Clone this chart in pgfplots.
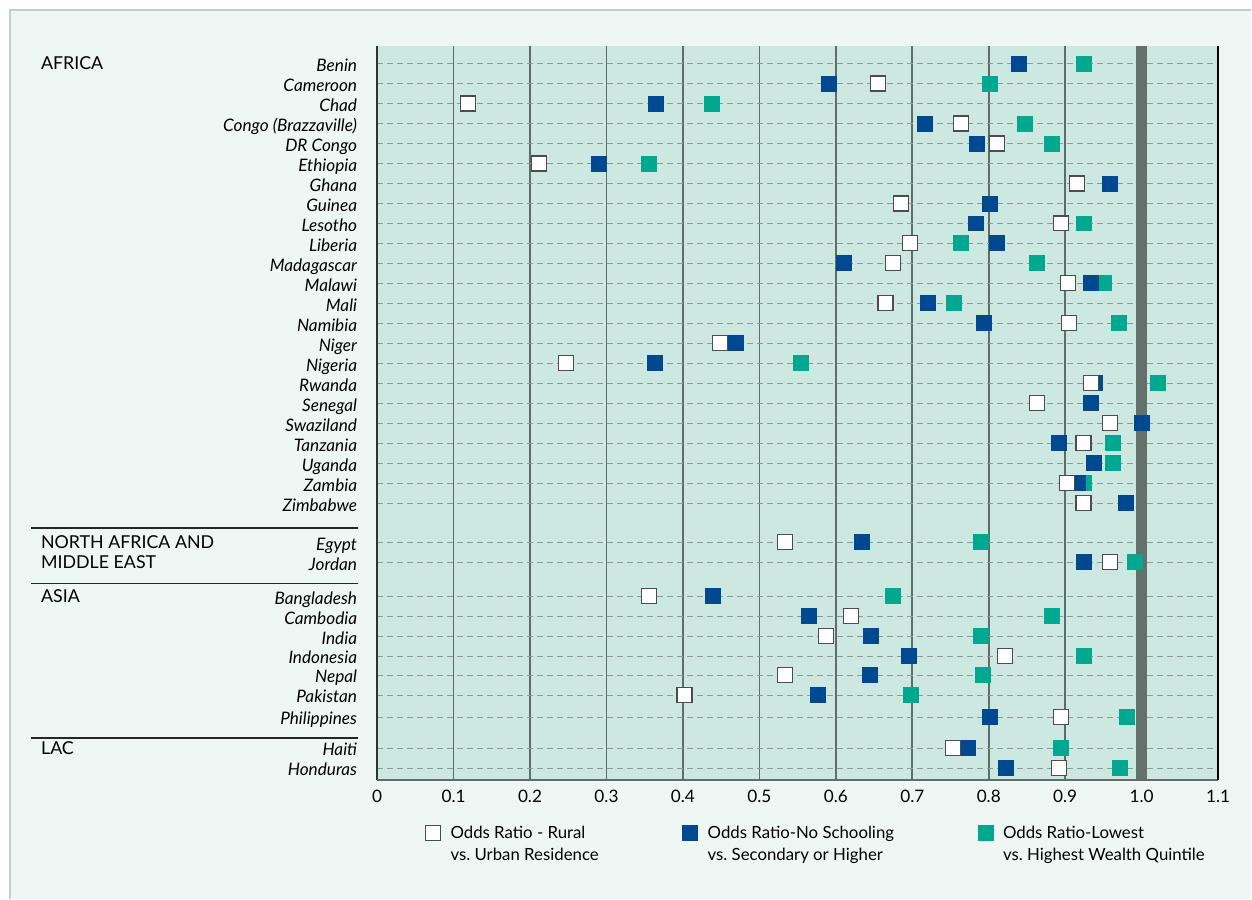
\documentclass[border=0pt]{standalone}
\usepackage{fontspec}
\setmainfont{Lato}
\usepackage{pgfplots}
\pgfplotsset{compat=1.18}
\definecolor{pagebg}{HTML}{EFF7F4}
\definecolor{plotbg}{HTML}{CCE8E0}
\definecolor{gridgray}{HTML}{5F6D69}
\definecolor{refgray}{HTML}{63706C}
\definecolor{dashgray}{HTML}{8D9B96}
\definecolor{schoolblue}{HTML}{004990}
\definecolor{wealthteal}{HTML}{00A88F}
\definecolor{framegray}{HTML}{C8CCCB}
\newcommand\lblfont{\fontsize{8.6}{10}\selectfont}
\newcommand\legfont{\fontsize{8.4}{10.6}\selectfont}
\newcommand\regfont{\fontsize{8.9}{10}\selectfont}

\begin{document}
\begin{tikzpicture}
% page background, 1 px of the reference = 0.5pt
\fill[white] (-188.65pt,-59.5pt) rectangle (437.35pt,390pt);
\fill[pagebg] (-183.65pt,-59.5pt) rectangle (437.35pt,385pt);
\draw[framegray, line width=0.6pt] (-183.65pt,-59.5pt) -- (-183.65pt,385pt) -- (437.35pt,385pt);

\begin{axis}[
    at={(0,0)}, anchor=south west,
    scale only axis,
    width=420.7pt, height=367pt,
    xmin=0, xmax=1.1,
    ymin=-0.875, ymax=35.825,
    y dir=reverse,
    clip=false,
    axis background/.style={fill=plotbg},
    axis line style={draw=none},
    major tick length=0pt,
    xtick={0,0.1,0.2,0.3,0.4,0.5,0.6,0.7,0.8,0.9,1.0,1.1},
    xticklabels={0,0.1,0.2,0.3,0.4,0.5,0.6,0.7,0.8,0.9,1.0,1.1},
    ytick={0,1,2,3,4,5,6,7,8,9,10,11,12,13,14,15,16,17,18,19,20,21,22,
           23.95,24.95,26.65,27.65,28.65,29.65,30.6,31.6,32.7,34.25,35.25},
    yticklabels={Benin,Cameroon\hspace{2pt},Chad\hspace{2pt},Congo (Brazzaville),DR Congo,Ethiopia,
        Ghana,Guinea,Lesotho,Liberia,Madagascar,Malawi,Mali,Namibia,Niger,Nigeria,
        Rwanda,Senegal,Swaziland,Tanzania\hspace{2pt},Uganda,Zambia,Zimbabwe,
        Egypt,Jordan,Bangladesh,Cambodia,India,Indonesia,Nepal,Pakistan,Philippines,
        Haiti,Honduras},
    xmajorgrids, ymajorgrids,
    x grid style={gridgray, line width=0.85pt},
    y grid style={dashgray, line width=0.6pt, dash pattern=on 3pt off 2pt},
    xticklabel style={font=\lblfont, yshift=-1.5pt},
    yticklabel style={font=\lblfont\itshape, xshift=-6.5pt, text height=9.6pt, text depth=1.8pt},
    legend columns=3,
    legend cell align=left,
    legend style={draw=none, fill=none, font=\legfont,
        at={(0.05,-0.049)}, anchor=north west,
        /tikz/every even column/.append style={column sep=40pt}},
    legend image code/.code={\path[draw=none] (0pt,0pt) -- (10.5pt,0pt);
        \draw[mark repeat=2, mark phase=2, #1]
        plot coordinates {(0pt,0pt) (3.75pt,0pt) (7.5pt,0pt)};},
]
% legend entries in reading order
\addlegendimage{only marks, mark=square*, mark size=3.75pt,
    mark options={fill=white, draw=black!70, line width=0.6pt}}
\addlegendentry{\begin{tabular}[t]{@{}l@{}}Odds Ratio - Rural\\vs.\ Urban Residence\end{tabular}}
\addlegendimage{only marks, mark=square*, mark size=3.75pt,
    mark options={fill=schoolblue, draw=schoolblue}}
\addlegendentry{\begin{tabular}[t]{@{}l@{}}Odds Ratio-No Schooling\\vs.\ Secondary or Higher\end{tabular}}
\addlegendimage{only marks, mark=square*, mark size=3.75pt,
    mark options={fill=wealthteal, draw=wealthteal}}
\addlegendentry{\begin{tabular}[t]{@{}l@{}}Odds Ratio-Lowest\\vs.\ Highest Wealth Quintile\end{tabular}}

% reference line at an odds ratio of 1
\addplot[refgray, line width=5.5pt, forget plot] coordinates {(1,-0.875) (1,35.825)};

% lowest vs highest wealth quintile
\addplot[only marks, mark=square*, mark size=3.75pt, forget plot,
    mark options={fill=wealthteal, draw=wealthteal}] coordinates {
    (0.924,0) (0.801,1) (0.438,2) (0.847,3) (0.882,4) (0.355,5)
    (0.925,8) (0.764,9) (0.863,10) (0.951,11) (0.754,12) (0.970,13)
    (0.554,15) (1.021,16) (0.962,19) (0.962,20) (0.924,21)
    (0.790,23.95) (0.991,24.95)
    (0.674,26.65) (0.882,27.65) (0.790,28.65) (0.924,29.65) (0.792,30.6)
    (0.698,31.6) (0.981,32.7)
    (0.895,34.25) (0.971,35.25)
};
% no schooling vs secondary or higher
\addplot[only marks, mark=square*, mark size=3.75pt, forget plot,
    mark options={fill=schoolblue, draw=schoolblue}] coordinates {
    (0.839,0) (0.591,1) (0.365,2) (0.717,3) (0.784,4) (0.290,5)
    (0.959,6) (0.801,7) (0.783,8) (0.811,9) (0.610,10) (0.934,11)
    (0.721,12) (0.793,13) (0.469,14) (0.363,15) (0.939,16) (0.934,17)
    (1.000,18) (0.892,19) (0.938,20) (0.916,21) (0.980,22)
    (0.634,23.95) (0.924,24.95)
    (0.439,26.65) (0.565,27.65) (0.646,28.65) (0.695,29.65) (0.644,30.6)
    (0.576,31.6) (0.801,32.7)
    (0.773,34.25) (0.822,35.25)
};
% rural vs urban residence
\addplot[only marks, mark=square*, mark size=3.75pt, forget plot,
    mark options={fill=white, draw=black!70, line width=0.6pt}] coordinates {
    (0.655,1) (0.119,2) (0.764,3) (0.811,4) (0.212,5)
    (0.915,6) (0.685,7) (0.894,8) (0.697,9) (0.675,10) (0.904,11)
    (0.665,12) (0.905,13) (0.448,14) (0.247,15) (0.934,16) (0.863,17)
    (0.959,18) (0.924,19) (0.902,21) (0.924,22)
    (0.533,23.95) (0.959,24.95)
    (0.356,26.65) (0.620,27.65) (0.587,28.65) (0.821,29.65) (0.533,30.6)
    (0.402,31.6) (0.895,32.7)
    (0.753,34.25) (0.892,35.25)
};

% axis frame: left, bottom and right only
\draw[black!80, line width=0.8pt] (axis cs:0,-0.875) -- (axis cs:0,35.825);
\draw[gridgray, line width=1pt] (axis cs:0,35.825) -- (axis cs:1.1,35.825);
\draw[black, line width=0.8pt] (axis cs:1.1,-0.875) -- (axis cs:1.1,35.825);

% region labels and separators
\node[anchor=west, inner sep=0pt, font=\regfont] at (axis cs:-0.440,0) {AFRICA};
\node[anchor=west, inner sep=0pt, font=\regfont] at (axis cs:-0.440,23.95) {NORTH AFRICA AND};
\node[anchor=west, inner sep=0pt, font=\regfont] at (axis cs:-0.440,24.95) {MIDDLE EAST};
\node[anchor=west, inner sep=0pt, font=\regfont] at (axis cs:-0.440,26.65) {ASIA};
\node[anchor=west, inner sep=0pt, font=\regfont] at (axis cs:-0.440,34.25) {LAC};
\draw[black!85, line width=0.6pt] (axis cs:-0.4527,23.24) -- (axis cs:-0.0253,23.24);
\draw[black!85, line width=0.6pt] (axis cs:-0.4527,26.0) -- (axis cs:-0.0253,26.0);
\draw[black!85, line width=0.6pt] (axis cs:-0.4527,33.74) -- (axis cs:-0.0253,33.74);
\end{axis}
\end{tikzpicture}
\end{document}
